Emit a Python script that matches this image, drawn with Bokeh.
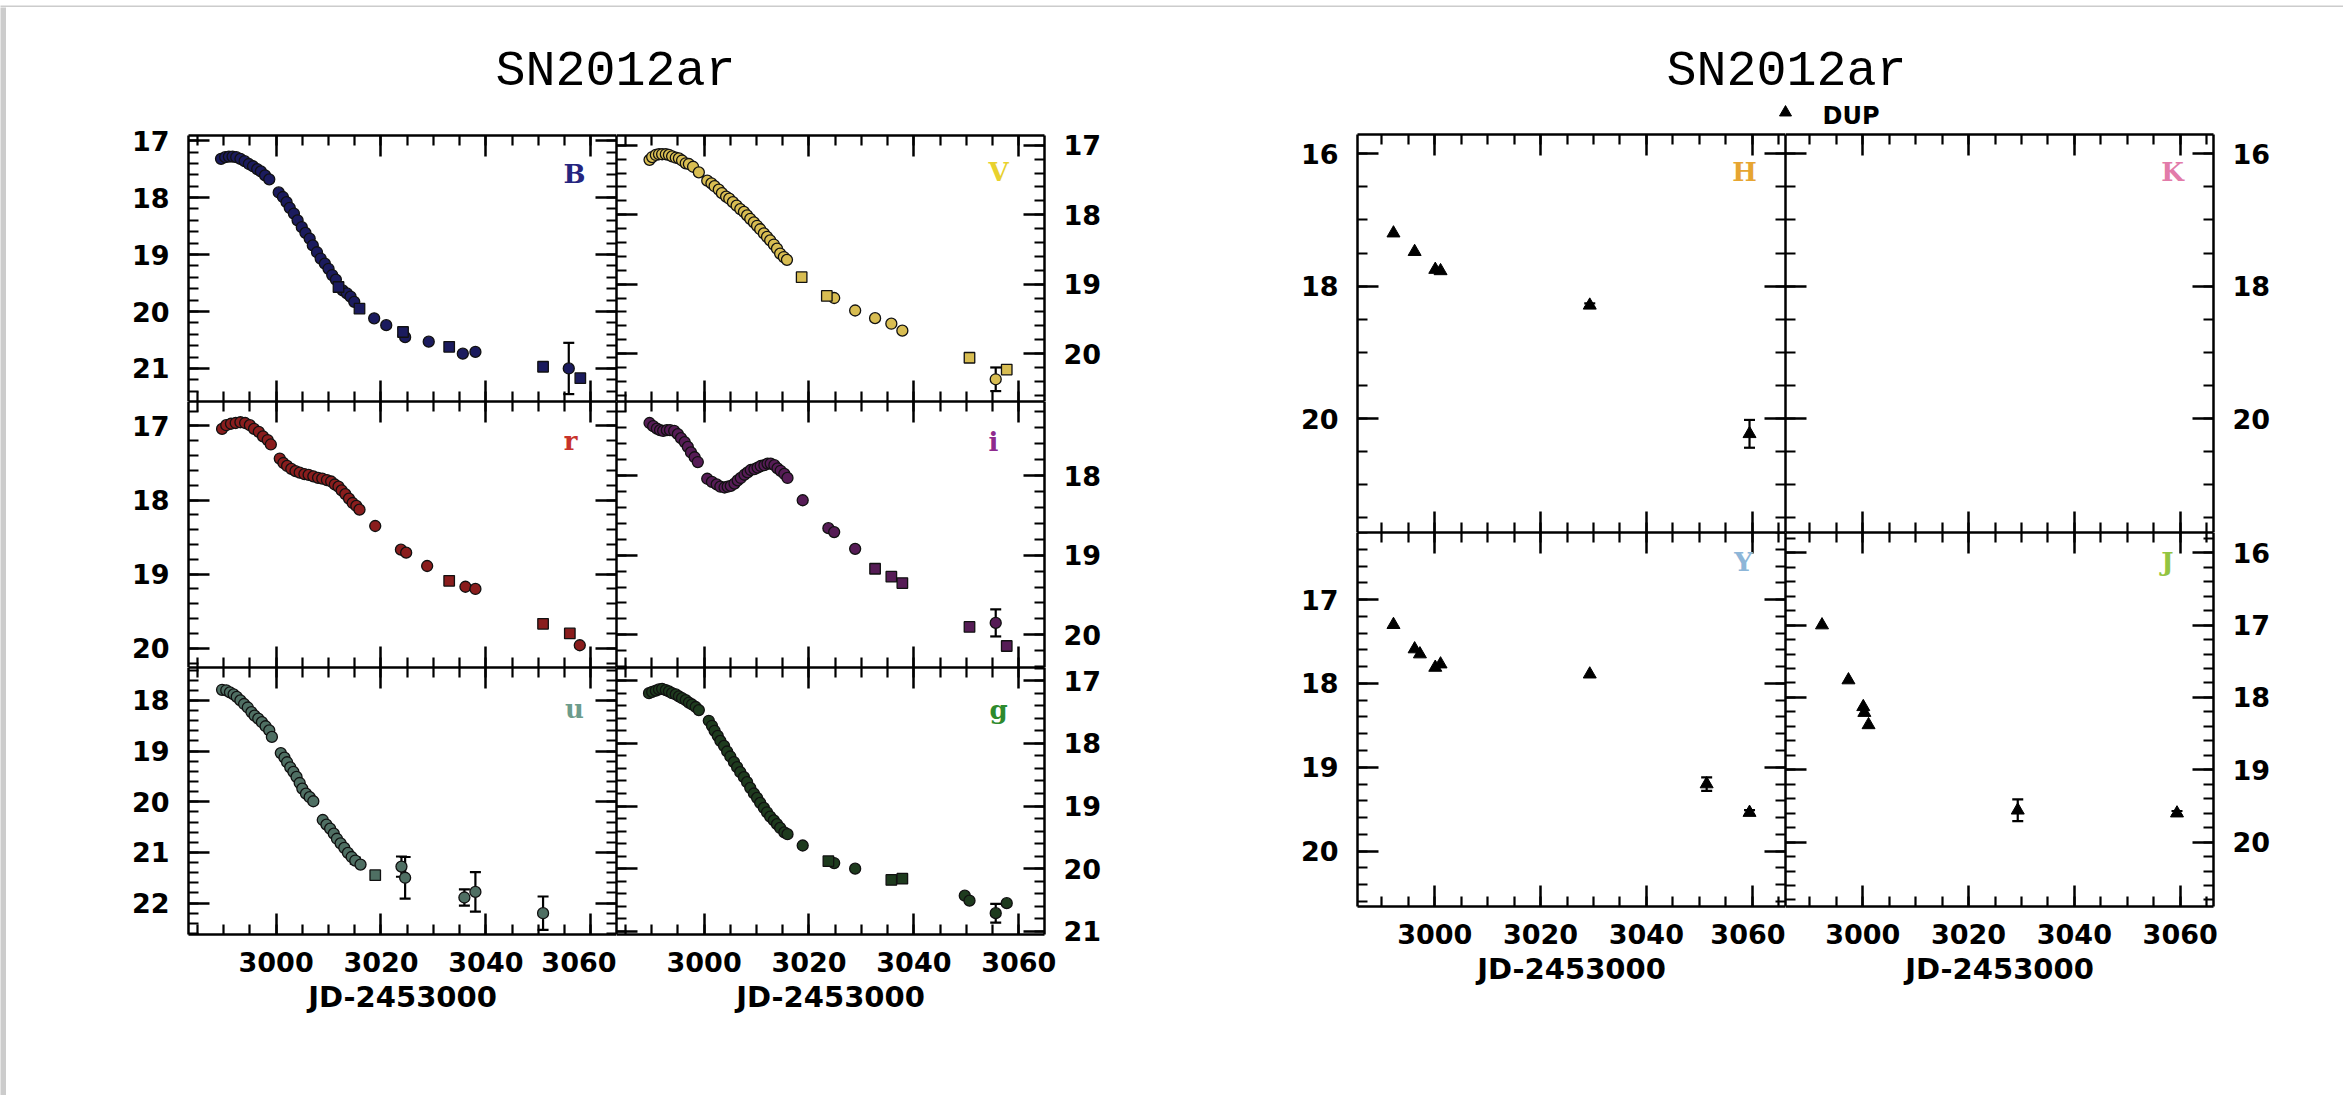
from bokeh.plotting import figure
from bokeh.models import (Range1d, LinearAxis, SingleIntervalTicker, Whisker,
                          TeeHead, ColumnDataSource, Label)
from bokeh.layouts import row, column
from bokeh.embed import file_html
from bokeh.resources import INLINE
from bokeh.core.properties import value

NUM_FONT = "DejaVu Sans"
LETTER_FONT = "DejaVu Serif"
TITLE_FONT = "Liberation Mono"

TITLE = "SN2012ar"
X_LABEL = "JD-2453000"

# ---------------- optical light curves (Swope circles, du Pont squares) ----------------
B_jd = [2989.5, 2990.3, 2991.0, 2991.7, 2992.4, 2993.2, 2994.0, 2994.8, 2995.6, 2996.4,
        2997.1, 2997.9, 2998.7, 3000.5, 3001.3, 3002.0, 3002.6, 3003.4, 3004.1, 3004.9,
        3005.6, 3006.4, 3007.0, 3007.8, 3008.5, 3009.3, 3010.0, 3010.7, 3011.4, 3011.9,
        3012.7, 3013.5, 3014.2, 3014.9, 3015.9, 3018.7, 3021.0, 3024.2, 3024.6, 3029.1,
        3033.0, 3035.6, 3038.0, 3050.9, 3055.8, 3058.0]
B_mag = [17.32, 17.29, 17.28, 17.28, 17.29, 17.32, 17.36, 17.41, 17.45, 17.50,
         17.54, 17.61, 17.68, 17.91, 17.99, 18.08, 18.18, 18.28, 18.40, 18.52,
         18.62, 18.72, 18.84, 18.96, 19.07, 19.16, 19.25, 19.36, 19.44, 19.57,
         19.63, 19.68, 19.74, 19.83, 19.95, 20.12, 20.24, 20.36, 20.45, 20.53,
         20.62, 20.74, 20.71, 20.97, 21.00, 21.17]
B_square = [3011.9, 3015.9, 3024.2, 3033.0, 3050.9, 3058.0]
B_sigma = {3024.2: 0.06, 3055.8: 0.45}

V_jd = [2989.6, 2990.1, 2990.8, 2991.4, 2992.0, 2992.7, 2993.3, 2993.9, 2994.6, 2995.2,
        2995.8, 2996.5, 2997.1, 2997.9, 2999.0, 3000.6, 3001.4, 3002.0, 3002.8, 3003.4,
        3004.2, 3004.8, 3005.5, 3006.2, 3006.9, 3007.6, 3008.2, 3008.8, 3009.5, 3010.1,
        3010.7, 3011.4, 3012.0, 3012.6, 3013.3, 3013.9, 3014.5, 3015.2, 3015.8, 3018.6,
        3023.4, 3024.8, 3028.8, 3032.6, 3035.7, 3037.8, 3050.6, 3055.6, 3057.7]
V_mag = [17.21, 17.17, 17.14, 17.13, 17.13, 17.13, 17.14, 17.16, 17.18, 17.19,
         17.22, 17.26, 17.27, 17.31, 17.39, 17.51, 17.55, 17.59, 17.64, 17.69,
         17.74, 17.77, 17.82, 17.87, 17.92, 17.96, 18.01, 18.06, 18.11, 18.16,
         18.21, 18.27, 18.32, 18.37, 18.43, 18.49, 18.56, 18.61, 18.65, 18.90,
         19.17, 19.20, 19.38, 19.49, 19.57, 19.67, 20.06, 20.37, 20.23]
V_square = [3018.6, 3023.4, 3050.6, 3057.7]
V_sigma = {3055.6: 0.17}

r_jd = [2989.7, 2990.5, 2991.4, 2992.3, 2993.2, 2994.1, 2995.0, 2995.8, 2996.7, 2997.5,
        2998.4, 2999.0, 3000.7, 3001.4, 3002.1, 3002.9, 3003.7, 3004.5, 3005.4, 3006.2,
        3007.1, 3008.0, 3008.8, 3009.7, 3010.5, 3011.2, 3011.9, 3012.5, 3013.2, 3013.9,
        3014.6, 3015.3, 3015.9, 3018.9, 3023.8, 3024.8, 3028.8, 3033.0, 3036.1, 3038.0,
        3050.9, 3056.0, 3057.9]
r_mag = [17.04, 16.99, 16.97, 16.96, 16.95, 16.96, 16.99, 17.04, 17.08, 17.14,
         17.19, 17.25, 17.44, 17.50, 17.54, 17.58, 17.61, 17.63, 17.65, 17.66,
         17.68, 17.70, 17.71, 17.73, 17.75, 17.79, 17.82, 17.87, 17.92, 17.98,
         18.04, 18.08, 18.13, 18.35, 18.67, 18.71, 18.89, 19.09, 19.17, 19.20,
         19.67, 19.80, 19.96]
r_square = [3033.0, 3050.9, 3056.0]
r_sigma = {}

i_jd = [2989.6, 2990.3, 2991.0, 2991.6, 2992.2, 2992.9, 2993.5, 2994.3, 2995.0, 2995.6,
        2996.3, 2996.9, 2997.5, 2998.2, 2998.8, 3000.6, 3001.5, 3002.4, 3003.1, 3003.9,
        3004.5, 3005.1, 3005.8, 3006.4, 3007.0, 3007.7, 3008.3, 3008.9, 3009.6, 3010.2,
        3010.8, 3011.5, 3012.1, 3012.7, 3013.4, 3014.0, 3014.6, 3015.3, 3015.9, 3018.8,
        3023.7, 3024.8, 3028.8, 3032.6, 3035.7, 3037.8, 3050.6, 3055.6, 3057.7]
i_mag = [17.34, 17.38, 17.41, 17.43, 17.44, 17.43, 17.43, 17.44, 17.48, 17.53,
         17.58, 17.64, 17.71, 17.77, 17.83, 18.04, 18.08, 18.11, 18.14, 18.15,
         18.14, 18.13, 18.10, 18.06, 18.03, 17.99, 17.96, 17.93, 17.92, 17.90,
         17.88, 17.87, 17.85, 17.85, 17.87, 17.91, 17.94, 17.98, 18.03, 18.31,
         18.66, 18.71, 18.92, 19.17, 19.27, 19.35, 19.90, 19.85, 20.14]
i_square = [3032.6, 3035.7, 3037.8, 3050.6, 3057.7]
i_sigma = {3055.6: 0.17}

u_jd = [2989.7, 2990.5, 2991.2, 2991.9, 2992.5, 2993.2, 2993.9, 2994.6, 2995.3, 2995.9,
        2996.6, 2997.3, 2998.0, 2998.7, 2999.2, 3000.9, 3001.6, 3002.1, 3002.7, 3003.3,
        3003.9, 3004.5, 3005.0, 3005.7, 3006.4, 3007.1, 3008.9, 3009.6, 3010.3, 3011.0,
        3011.6, 3012.3, 3013.0, 3013.7, 3014.4, 3015.1, 3016.1, 3018.9, 3023.9, 3024.6,
        3035.9, 3038.0, 3050.9]
u_mag = [17.79, 17.80, 17.84, 17.88, 17.93, 18.00, 18.07, 18.14, 18.23, 18.30,
         18.36, 18.43, 18.51, 18.59, 18.72, 19.04, 19.13, 19.22, 19.32, 19.41,
         19.51, 19.63, 19.74, 19.84, 19.91, 19.99, 20.36, 20.45, 20.53, 20.63,
         20.73, 20.82, 20.91, 21.01, 21.09, 21.16, 21.24, 21.45, 21.28, 21.50,
         21.89, 21.78, 22.20]
u_square = [3018.9]
u_sigma = {3015.1: 0.06, 3023.9: 0.20, 3024.6: 0.41, 3035.9: 0.16, 3038.0: 0.39, 3050.9: 0.33}

g_jd = [2989.5, 2990.1, 2990.8, 2991.4, 2992.0, 2992.7, 2993.3, 2993.9, 2994.6, 2995.2,
        2995.8, 2996.5, 2997.1, 2997.7, 2998.4, 2999.0, 3000.9, 3001.5, 3002.0, 3002.6,
        3003.1, 3003.8, 3004.4, 3005.0, 3005.7, 3006.3, 3006.9, 3007.6, 3008.2, 3008.8,
        3009.5, 3010.1, 3010.7, 3011.4, 3012.0, 3012.6, 3013.3, 3013.9, 3014.5, 3015.3,
        3015.9, 3018.8, 3023.7, 3024.8, 3028.8, 3035.7, 3037.8, 3049.7, 3050.6, 3055.6,
        3057.7]
g_mag = [17.20, 17.18, 17.16, 17.14, 17.13, 17.15, 17.17, 17.20, 17.22, 17.25,
         17.28, 17.31, 17.35, 17.38, 17.42, 17.47, 17.64, 17.72, 17.80, 17.88,
         17.96, 18.04, 18.13, 18.21, 18.30, 18.38, 18.46, 18.54, 18.62, 18.71,
         18.80, 18.87, 18.95, 19.03, 19.10, 19.17, 19.23, 19.29, 19.35, 19.42,
         19.45, 19.63, 19.88, 19.91, 20.00, 20.18, 20.16, 20.43, 20.51, 20.71,
         20.55]
g_square = [3023.7, 3035.7, 3037.8]
g_sigma = {3055.6: 0.15}

# ---------------- near-IR photometry (du Pont, triangles) ----------------
H_jd = [2992.2, 2996.2, 3000.1, 3001.1, 3029.3, 3059.5]
H_mag = [17.20, 17.48, 17.75, 17.77, 18.29, 20.23]
H_sigma = {3029.3: 0.03, 3059.5: 0.21}

K_jd = []
K_mag = []
K_sigma = {}

Y_jd = [2992.2, 2996.2, 2997.2, 3000.1, 3001.1, 3029.3, 3051.4, 3059.5]
Y_mag = [17.30, 17.59, 17.65, 17.81, 17.77, 17.89, 19.20, 19.54]
Y_sigma = {3051.4: 0.08, 3059.5: 0.03}

J_jd = [2992.3, 2997.3, 3000.1, 3000.3, 3001.1, 3029.3, 3059.4]
J_mag = [17.00, 17.76, 18.13, 18.21, 18.38, 19.56, 19.60]
J_sigma = {3029.3: 0.15, 3059.4: 0.03}

# ---------------- layout constants ----------------
FRAME_W = 428
OPT_X = (2983.3, 3064.9)
NIR_X = (2985.4, 3066.3)
OPT_ROWS = [266, 266, 267]
NIR_ROWS = [398, 374]


def styled_axis(ticker, labelled, standoff=20, axis_label=None, label_standoff=8):
    ax = LinearAxis(ticker=ticker)
    ax.axis_line_width = 2.5
    ax.axis_line_color = "black"
    ax.major_tick_in = 21
    ax.major_tick_out = 0
    ax.minor_tick_in = 10
    ax.minor_tick_out = 0
    ax.major_tick_line_width = 2.5
    ax.minor_tick_line_width = 2.2
    ax.major_tick_line_color = "black"
    ax.minor_tick_line_color = "black"
    if labelled:
        ax.major_label_text_font = NUM_FONT
        ax.major_label_text_font_size = "27px"
        ax.major_label_text_font_style = "bold"
        ax.major_label_text_color = "black"
        ax.major_label_standoff = standoff
    else:
        # tick marks only on this side of the frame
        ax.major_label_text_font_size = "0px"
        ax.major_label_text_color = None
        ax.major_label_standoff = 0
    if axis_label:
        ax.axis_label = axis_label
        ax.axis_label_text_font = NUM_FONT
        ax.axis_label_text_font_size = "29px"
        ax.axis_label_text_font_style = "bold"
        ax.axis_label_text_color = "black"
        ax.axis_label_standoff = label_standoff
    return ax


def make_panel(xr, yr, y_step, y_minor, fh, label_side, borders, x_labels=False,
               x_standoff=17, label_standoff=5):
    top_mag, bottom_mag = yr
    p = figure(frame_width=FRAME_W, frame_height=fh,
               x_range=Range1d(xr[0], xr[1]), y_range=Range1d(bottom_mag, top_mag),
               x_axis_location=None, y_axis_location=None,
               toolbar_location=None, output_backend="svg",
               min_border_left=borders[0], min_border_right=borders[1],
               min_border_top=borders[2], min_border_bottom=borders[3],
               background_fill_color="white", border_fill_color="white",
               outline_line_color=None)
    p.grid.visible = False
    p.add_layout(styled_axis(SingleIntervalTicker(interval=20, num_minor_ticks=4),
                             x_labels, standoff=x_standoff,
                             axis_label=X_LABEL if x_labels else None,
                             label_standoff=label_standoff), "below")
    p.add_layout(styled_axis(SingleIntervalTicker(interval=20, num_minor_ticks=4), False), "above")
    for side in ("left", "right"):
        p.add_layout(styled_axis(SingleIntervalTicker(interval=y_step, num_minor_ticks=y_minor),
                                 side == label_side, standoff=19), side)
    return p


def add_band_letter(p, xr, yr, fh, letter, color, dx, dy):
    px_day = FRAME_W / (xr[1] - xr[0])
    px_mag = fh / (yr[1] - yr[0])
    p.add_layout(Label(x=xr[1] - dx / px_day, y=yr[0] + dy / px_mag, text=letter,
                       text_font=LETTER_FONT, text_font_style="bold",
                       text_font_size="26px", text_color=color,
                       text_align="center", text_baseline="alphabetic"))


def add_errors(p, jd, mag, sigma):
    if not sigma:
        return
    base, lo, hi = [], [], []
    for t, m in zip(jd, mag):
        if t in sigma:
            base.append(t)
            lo.append(m - sigma[t])
            hi.append(m + sigma[t])
    src = ColumnDataSource(dict(base=base, lower=lo, upper=hi))
    p.add_layout(Whisker(source=src, base="base", lower="lower", upper="upper",
                         dimension="height", line_color="black", line_width=2.2,
                         upper_head=TeeHead(size=11, line_width=2.2, line_color="black"),
                         lower_head=TeeHead(size=11, line_width=2.2, line_color="black")))


def add_optical(p, jd, mag, squares, sigma, fill):
    add_errors(p, jd, mag, sigma)
    cx = [t for t in jd if t not in squares]
    cy = [m for t, m in zip(jd, mag) if t not in squares]
    sx = [t for t in jd if t in squares]
    sy = [m for t, m in zip(jd, mag) if t in squares]
    p.scatter(cx, cy, marker="circle", size=11, fill_color=fill,
              line_color="#111111", line_width=1.3)
    if sx:
        p.scatter(sx, sy, marker="square", size=10.5, fill_color=fill,
                  line_color="#111111", line_width=1.3)


def add_nir(p, jd, mag, sigma):
    add_errors(p, jd, mag, sigma)
    if jd:
        p.scatter(jd, mag, marker="triangle", size=13, fill_color="black",
                  line_color="black", line_width=1)


def strip(w, h):
    s = figure(width=w, height=h, toolbar_location=None, output_backend="svg",
               x_axis_location=None, y_axis_location=None,
               min_border=0, outline_line_color=None,
               background_fill_color="#cccccc", border_fill_color="#cccccc")
    s.grid.visible = False
    return s


def header(w, h, title_x, baseline):
    hd = figure(width=w, height=h, x_range=Range1d(0, w), y_range=Range1d(h, 0),
                toolbar_location=None, output_backend="svg",
                x_axis_location=None, y_axis_location=None,
                min_border=0, outline_line_color=None,
                background_fill_color="white", border_fill_color="white")
    hd.grid.visible = False
    hd.text(x=[title_x], y=[baseline], text=[TITLE], text_font=value(TITLE_FONT),
            text_font_size="50px", text_align="center", text_baseline="alphabetic",
            text_color="black")
    return hd


# ---------------- optical block ----------------
LEFT_B, OPT_RIGHT_B, BOTTOM_B = 182, 150, 150
OPT_TOP_B = 20
opt_specs = [
    # letter, jd, mag, squares, sigma, fill, letter colour, y-range, column, row, dx, dy
    ("B", B_jd, B_mag, B_square, B_sigma, "#1b1b5e", "#25257f", (16.91, 21.58), 0, 0, 42, 38),
    ("V", V_jd, V_mag, V_square, V_sigma, "#d8bd52", "#e8d12e", (16.86, 20.69), 1, 0, 46, 36),
    ("r", r_jd, r_mag, r_square, r_sigma, "#8a1d1d", "#c8322a", (16.67, 20.26), 0, 1, 46, 39),
    ("i", i_jd, i_mag, i_square, i_sigma, "#561c56", "#8e2a8e", (17.07, 20.41), 1, 1, 51, 40),
    ("u", u_jd, u_mag, u_square, u_sigma, "#4f6f63", "#6c9c8c", (17.35, 22.62), 0, 2, 42, 41),
    ("g", g_jd, g_mag, g_square, g_sigma, "#1e3b1e", "#2d8a2d", (16.79, 21.05), 1, 2, 46, 42),
]
opt_panels = {}
for letter, jd, mag, sq, sig, fill, lcol, yr, col, rw, dx, dy in opt_specs:
    fh = OPT_ROWS[rw]
    borders = [LEFT_B if col == 0 else 0, 0 if col == 0 else OPT_RIGHT_B,
               OPT_TOP_B if rw == 0 else 0, BOTTOM_B if rw == 2 else 0]
    p = make_panel(OPT_X, yr, 1, 5, fh, "left" if col == 0 else "right", borders,
                   x_labels=(rw == 2), x_standoff=17, label_standoff=5)
    add_optical(p, jd, mag, sq, sig, fill)
    add_band_letter(p, OPT_X, yr, fh, letter, lcol, dx, dy)
    opt_panels[(col, rw)] = p

opt_header = header(LEFT_B + 2 * FRAME_W + OPT_RIGHT_B, 128 - OPT_TOP_B, 609, 64)
opt_block = column(opt_header,
                   row(opt_panels[(0, 0)], opt_panels[(1, 0)]),
                   row(opt_panels[(0, 1)], opt_panels[(1, 1)]),
                   row(opt_panels[(0, 2)], opt_panels[(1, 2)]))

# ---------------- near-IR block ----------------
NIR_LEFT_B, NIR_RIGHT_B = 163, 120
NIR_TOP_B = 3
nir_specs = [
    # letter, jd, mag, sigma, letter colour, y-range, tick step, minor count, column, row, dx, dy
    ("H", H_jd, H_mag, H_sigma, "#e6a531", (15.71, 21.72), 2, 4, 0, 0, 41, 37),
    ("K", K_jd, K_mag, K_sigma, "#e27ba9", (15.71, 21.72), 2, 4, 1, 0, 41, 37),
    ("Y", Y_jd, Y_mag, Y_sigma, "#8db6d8", (16.20, 20.66), 1, 5, 0, 1, 42, 29),
    ("J", J_jd, J_mag, J_sigma, "#93c441", (15.72, 20.89), 1, 5, 1, 1, 46, 29),
]
nir_panels = {}
for letter, jd, mag, sig, lcol, yr, step, minor, col, rw, dx, dy in nir_specs:
    fh = NIR_ROWS[rw]
    borders = [NIR_LEFT_B if col == 0 else 0, 0 if col == 0 else NIR_RIGHT_B,
               NIR_TOP_B if rw == 0 else 0, BOTTOM_B if rw == 1 else 0]
    p = make_panel(NIR_X, yr, step, minor, fh, "left" if col == 0 else "right", borders,
                   x_labels=(rw == 1), x_standoff=17, label_standoff=5)
    add_nir(p, jd, mag, sig)
    add_band_letter(p, NIR_X, yr, fh, letter, lcol, dx, dy)
    nir_panels[(col, rw)] = p

nir_w = NIR_LEFT_B + 2 * FRAME_W + NIR_RIGHT_B
nir_header = header(nir_w, 127 - NIR_TOP_B, 592, 64)
# instrument key
nir_header.scatter(x=[591], y=[105], marker="triangle", size=12, color="black")
nir_header.text(x=[628], y=[108], text=["DUP"], text_font=value(NUM_FONT),
                text_font_size="24px", text_font_style="bold",
                text_align="left", text_baseline="alphabetic", text_color="black")
nir_block = column(nir_header,
                   row(nir_panels[(0, 0)], nir_panels[(1, 0)]),
                   row(nir_panels[(0, 1)], nir_panels[(1, 1)]))

page = column(strip(2343, 7), row(strip(6, 1088), opt_block, nir_block))

open("out.html", "w").write(file_html(page, INLINE, TITLE))
